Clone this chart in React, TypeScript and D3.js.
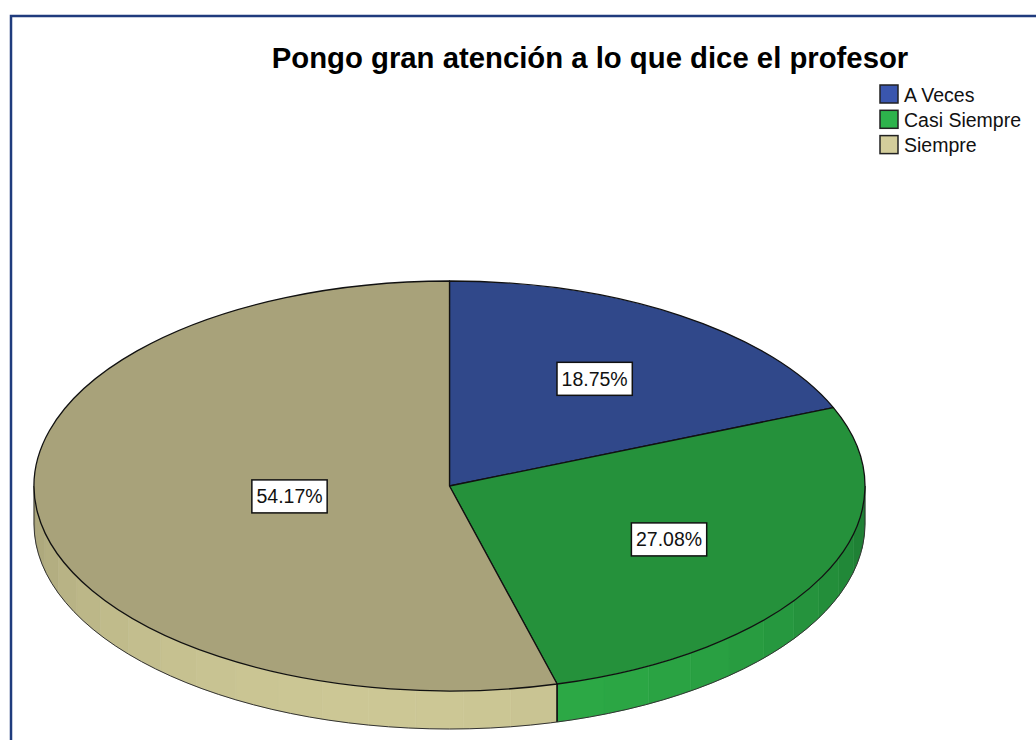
import React from "react";
import * as d3 from "d3";

const title = "Pongo gran atención a lo que dice el profesor";
const categories = ["A Veces", "Casi Siempre", "Siempre"];
const values = [18.75, 27.08, 54.17];
const labels = ["18.75%", "27.08%", "54.17%"];
const topColors = ["#30488A", "#25913B", "#A8A27A"];
const legendColors = ["#3A56AE", "#2DB34C", "#D3CD9B"];
const sideDark = ["#223469", "#1E7F34", "#9A956C"];
const sideLight = ["#3450A0", "#2DAC47", "#CCC795"];

const W = 1036;
const H = 740;
const cx = 449.5;
const cy = 486;
const rx = 415.5;
const ry = 205;
const depth = 38;

const pt = (a: number, dy = 0): [number, number] => [cx + rx * Math.sin(a), cy - ry * Math.cos(a) + dy];

export default function App() {
  const pie = d3.pie<number>().sort(null).startAngle(0).endAngle(2 * Math.PI);
  const arcs = pie(values);

  const topPath = (a0: number, a1: number) => {
    const p0 = pt(a0);
    const p1 = pt(a1);
    const large = a1 - a0 > Math.PI ? 1 : 0;
    return `M${cx},${cy}L${p0[0]},${p0[1]}A${rx},${ry} 0 ${large} 1 ${p1[0]},${p1[1]}Z`;
  };

  const facets: { d: string; fill: string; key: string }[] = [];
  const edges: string[] = [];
  const step = (7 * Math.PI) / 180;
  arcs.forEach((a, i) => {
    const s = Math.max(a.startAngle, Math.PI / 2);
    const e = Math.min(a.endAngle, (3 * Math.PI) / 2);
    if (e <= s) return;
    const n = Math.max(1, Math.ceil((e - s) / step));
    for (let k = 0; k < n; k++) {
      const b0 = s + ((e - s) * k) / n;
      const b1 = s + ((e - s) * (k + 1)) / n;
      const mid = (b0 + b1) / 2;
      const t = Math.max(0, Math.cos(mid - Math.PI * 1.05));
      const fill = d3.interpolateRgb(sideDark[i], sideLight[i])(Math.pow(t, 0.8));
      const p0 = pt(b0);
      const p1 = pt(b1);
      const q1 = pt(b1, depth);
      const q0 = pt(b0, depth);
      facets.push({
        key: `${i}-${k}`,
        fill,
        d: `M${p0[0]},${p0[1]}A${rx},${ry} 0 0 1 ${p1[0]},${p1[1]}L${q1[0]},${q1[1]}A${rx},${ry} 0 0 0 ${q0[0]},${q0[1]}Z`,
      });
    }
    [a.startAngle, a.endAngle].forEach((ang) => {
      if (ang > Math.PI / 2 && ang < (3 * Math.PI) / 2) {
        const p = pt(ang);
        const q = pt(ang, depth);
        edges.push(`M${p[0]},${p[1]}L${q[0]},${q[1]}`);
      }
    });
  });

  const lb = pt(Math.PI / 2, depth);
  const rb = pt((3 * Math.PI) / 2, depth);
  const bottomOutline = `M${pt(Math.PI / 2)[0]},${pt(Math.PI / 2)[1]}L${lb[0]},${lb[1]}A${rx},${ry} 0 0 1 ${rb[0]},${rb[1]}L${pt(1.5 * Math.PI)[0]},${pt(1.5 * Math.PI)[1]}`;

  const centroid = (a: d3.PieArcDatum<number>) => {
    const half = (a.endAngle - a.startAngle) / 2;
    const r = ((2 / 3) * Math.sin(half)) / half;
    const mid = (a.startAngle + a.endAngle) / 2;
    return [cx + rx * r * Math.sin(mid), cy - ry * r * Math.cos(mid)];
  };

  const fs = 19.5;
  return (
    <svg width={W} height={H} style={{ position: "absolute", left: 0, top: 0 }} fontFamily="Liberation Sans, Arial, sans-serif">
      <rect x={0} y={0} width={W} height={H} fill="#fff" />
      <rect x={11} y={16} width={W + 10} height={H + 10} fill="none" stroke="#1F3B7D" strokeWidth={2.5} />
      <text x={590} y={68} textAnchor="middle" fontSize={29.3} fontWeight="bold" fill="#000">{title}</text>

      {facets.map((f) => (
        <path key={f.key} d={f.d} fill={f.fill} stroke={f.fill} strokeWidth={0.6} />
      ))}
      {edges.map((d, i) => (
        <path key={i} d={d} stroke="#111" strokeWidth={1.3} fill="none" />
      ))}
      <path d={bottomOutline} fill="none" stroke="#333" strokeWidth={1} />

      {arcs.map((a, i) => (
        <path key={i} d={topPath(a.startAngle, a.endAngle)} fill={topColors[i]} stroke="#111" strokeWidth={1.3} strokeLinejoin="round" />
      ))}

      {arcs.map((a, i) => {
        const [x, y] = centroid(a);
        const w = fs * 3.4 + 9;
        const h = 33;
        return (
          <g key={i}>
            <rect x={x - w / 2} y={y - h / 2} width={w} height={h} fill="#fff" stroke="#111" strokeWidth={1.5} />
            <text x={x} y={y + fs * 0.36} textAnchor="middle" fontSize={fs} fill="#111">{labels[i]}</text>
          </g>
        );
      })}

      {categories.map((c, i) => (
        <g key={c}>
          <rect x={880} y={85 + i * 25.3} width={18} height={18} fill={legendColors[i]} stroke="#222" strokeWidth={1.5} />
          <text x={904} y={101.5 + i * 25.3} fontSize={fs} fill="#111">{c}</text>
        </g>
      ))}
    </svg>
  );
}
